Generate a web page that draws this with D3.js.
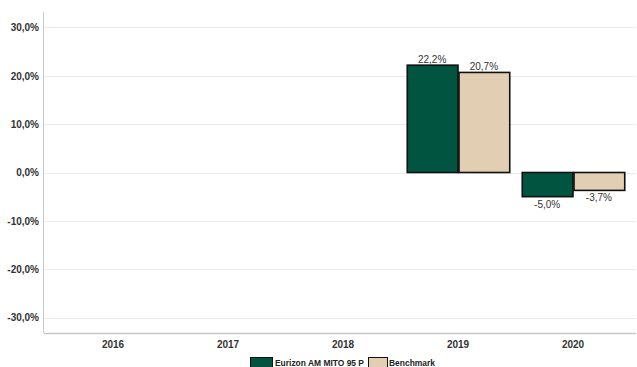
<!DOCTYPE html>
<html><head><meta charset="utf-8">
<script src="https://cdn.jsdelivr.net/npm/d3@7"></script>
<style>body{margin:0;background:#fff}svg{display:block}</style>
</head><body>
<script>
const categories = ["2016","2017","2018","2019","2020"];
const seriesNames = ["Eurizon AM MITO 95 P","Benchmark"];
const fundValues = [null,null,null,22.2,-5.0];
const benchValues = [null,null,null,20.7,-3.7];
const yTicks = [30,20,10,0,-10,-20,-30];
const colors = ["#005440","#e2ceb3"];

(function(){
const W=637,H=367;
const svg=d3.select("body").append("svg").attr("width",W).attr("height",H)
  .style("font-family","'Liberation Sans', Arial, sans-serif");
const pLeft=44, pRight=636, pTop=12, pBottom=333;
const y=d3.scaleLinear().domain([-33.2,33.2]).range([pBottom,pTop]);
const x=d3.scaleBand().domain(categories).range([55.5,630.5]).paddingInner(0.1).paddingOuter(0.05);
const x1=d3.scaleBand().domain([0,1]).range([0,x.bandwidth()]);
const fmt=v=>d3.format(".1f")(v).replace(".",",").replace("\u2212","-");

// grid
svg.append("g").selectAll("line").data(yTicks).join("line")
  .attr("x1",pLeft).attr("x2",pRight).attr("y1",d=>Math.round(y(d))+0.5).attr("y2",d=>Math.round(y(d))+0.5)
  .attr("stroke","#ececec").attr("stroke-width",1);

// y axis
const ya=svg.append("g").attr("transform",`translate(${pLeft},0)`)
  .call(d3.axisLeft(y).tickValues(yTicks).tickSize(0).tickPadding(5).tickFormat(d=>fmt(d)+"%"));
ya.select(".domain").remove();
ya.selectAll("text").attr("font-size",10).attr("font-weight","bold").attr("fill","#333")
  .attr("font-family","'Liberation Sans', Arial, sans-serif");
svg.append("line").attr("x1",pLeft-0.5).attr("x2",pLeft-0.5).attr("y1",pTop).attr("y2",pBottom).attr("stroke","#c8c8c8");

// x axis
const xa=svg.append("g").attr("transform",`translate(0,${pBottom})`)
  .call(d3.axisBottom(x).tickSize(0).tickPadding(8));
xa.select(".domain").remove();
xa.selectAll("text").attr("font-size",10).attr("font-weight","bold").attr("fill","#333")
  .attr("font-family","'Liberation Sans', Arial, sans-serif");
svg.append("line").attr("x1",pLeft).attr("x2",pRight).attr("y1",pBottom+0.5).attr("y2",pBottom+0.5).attr("stroke","#c8c8c8").attr("stroke-width",1.5);

// bars
const data=[];
categories.forEach((c,i)=>{
  [fundValues[i],benchValues[i]].forEach((v,s)=>{ if(v!=null) data.push({c,s,v}); });
});
const g=svg.append("g");
g.selectAll("rect").data(data).join("rect")
  .attr("x",d=>x(d.c)+x1(d.s)+1).attr("width",x1.bandwidth()-1)
  .attr("y",d=>y(Math.max(0,d.v))).attr("height",d=>Math.abs(y(d.v)-y(0)))
  .attr("fill",d=>colors[d.s]).attr("stroke","#111").attr("stroke-width",1.6);
g.selectAll("text").data(data).join("text")
  .attr("x",d=>x(d.c)+x1(d.s)+x1.bandwidth()/2)
  .attr("y",d=>d.v>=0?y(d.v)-2:y(d.v)+11)
  .attr("text-anchor","middle").attr("font-size",10).attr("fill","#333")
  .text(d=>fmt(d.v)+"%");

// legend
const lg=svg.append("g");
const items=[{x:250.5,w:22,tx:275,tl:89},{x:368.5,w:19,tx:389,tl:46}];
items.forEach((it,i)=>{
  lg.append("rect").attr("x",it.x).attr("y",357.5).attr("width",it.w).attr("height",12)
    .attr("fill",colors[i]).attr("stroke","#111").attr("stroke-width",1);
  lg.append("text").attr("x",it.tx).attr("y",366).attr("font-size",9.5).attr("font-weight","bold").attr("fill","#222")
    .attr("textLength",it.tl).attr("lengthAdjust","spacingAndGlyphs")
    .text(seriesNames[i]);
});
})();
</script>
</body></html>
